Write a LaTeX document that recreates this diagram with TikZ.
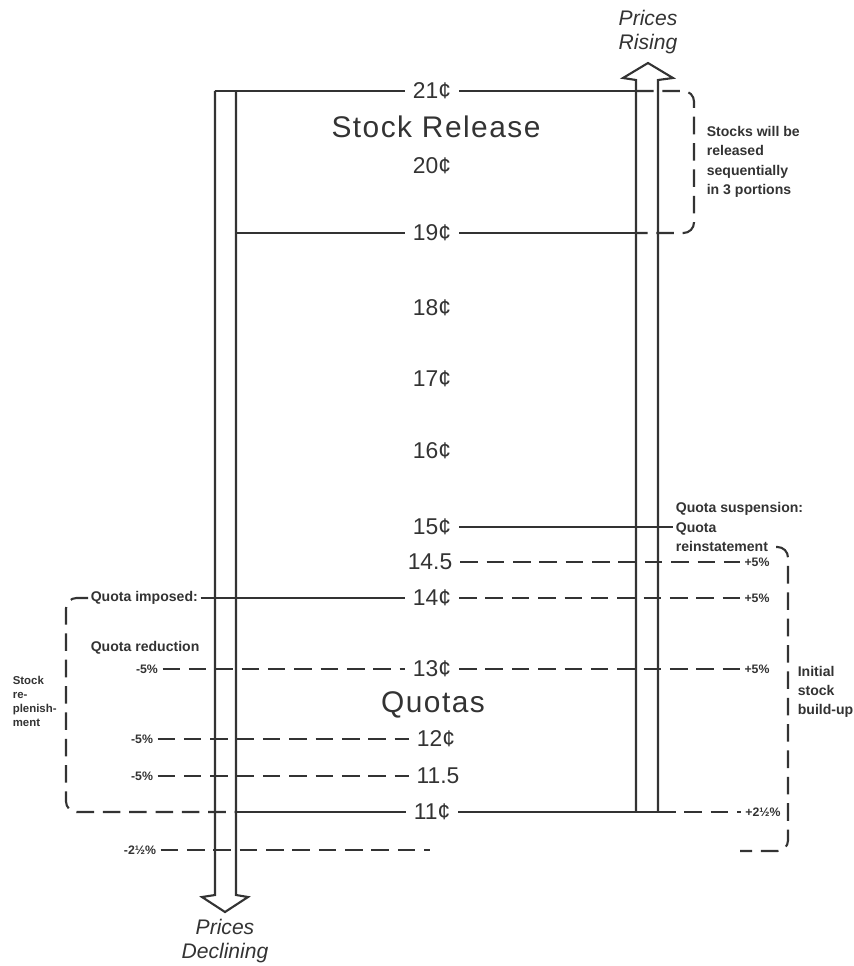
\documentclass[tikz,border=0pt]{standalone}
\usepackage{fontspec}
\setmainfont{Liberation Sans}
\newfontfamily\spacedfont[LetterSpace=5]{Liberation Sans}
\usepackage{xcolor}
\usepackage{tikz}
\definecolor{ink}{HTML}{333333}

\begin{document}
\begin{tikzpicture}[x=0.02cm, y=-0.02cm, line width=1.2pt, color=ink,
  price/.style={inner sep=4pt, font=\fontsize{13}{15}\selectfont},
  title/.style={font=\spacedfont\fontsize{17}{19}\selectfont},
  note/.style={inner sep=1pt, align=left, font=\fontsize{8}{11}\selectfont\bfseries},
  pct/.style={inner sep=2pt, font=\fontsize{7}{8}\selectfont\bfseries},
  trend/.style={align=center, font=\fontsize{12}{14}\selectfont\itshape},
  gapline/.style={dash pattern=on 10pt off 5pt}]
\useasboundingbox (0,0) rectangle (854,966);

\coordinate (dl) at (215,0);
\coordinate (dr) at (236,0);
\coordinate (rl) at (636,0);
\coordinate (rr) at (658,0);

\node[price] (p21) at (432,91) {21¢};
\node[price] (p20) at (432,166) {20¢};
\node[price] (p19) at (432,233) {19¢};
\node[price] (p18) at (432,308) {18¢};
\node[price] (p17) at (432,379) {17¢};
\node[price] (p16) at (432,451) {16¢};
\node[price] (p15) at (432,527) {15¢};
\node[price] (p14h) at (430,562) {14.5};
\node[price] (p14) at (432,598) {14¢};
\node[price] (p13) at (432,669) {13¢};
\node[price] (p12) at (436,739) {12¢};
\node[price] (p11h) at (438,776) {11.5};
\node[price] (p11) at (432,812) {11¢};

\node[title] (release) at (436,127) {Stock Release};
\node[title] (quotas) at (433,705) {Quotas};
\node[trend] (rising) at (648,32) {Prices\\Rising};
\node[trend] (declining) at (225,941) {Prices\\Declining};

\draw (dl |- p21) -- (215,895) -- (202,897) -- (225,912) -- (248,897) -- (236,895) -- (dr |- p21);
\draw (rl |- p11) -- (636,80) -- (623,78) -- (648,63) -- (673,78) -- (658,80) -- (rr |- p11);

\draw (dl |- p21) -- (p21.west);
\draw (p21.east) -- (rl |- p21);
\draw (dr |- p19) -- (p19.west);
\draw (p19.east) -- (rl |- p19);
\draw[gapline, rounded corners=6pt] (rl |- p21) -- (694,91) -- (694,233) -- (rl |- p19);
\node[note, anchor=west] (portions) at (704,162) {Stocks will be\\released\\sequentially\\in 3 portions};

\node[note, anchor=west] (suspend) at (673,527) {Quota suspension:\\Quota\\reinstatement};
\draw (p15.east) -- (suspend.west);

\node[pct] (up1) at (757,562) {+5\%};
\node[pct] (up2) at (757,598) {+5\%};
\node[pct] (up3) at (757,669) {+5\%};
\node[pct] (up4) at (763,812) {+2½\%};
\draw[gapline] (p14h.east) -- (up1.west);
\draw[gapline] (p14.east) -- (up2.west);
\draw[gapline] (p13.east) -- (up3.west);
\draw (p11.east) -- (rr |- p11);
\draw[gapline] (rr |- p11) -- (up4.west);

\node[note, anchor=west] (imposed) at (88,598) {Quota imposed:};
\node[note, anchor=west] (reduce) at (88,648) {Quota reduction};
\node[pct] (down1) at (147,669) {-5\%};
\node[pct] (down2) at (142,739) {-5\%};
\node[pct] (down3) at (142,776) {-5\%};
\node[pct] (down4) at (140,850) {-2½\%};
\coordinate (cut) at (430,850);
\draw (imposed.east) -- (p14.west);
\draw[gapline] (down1.east) -- (p13.west);
\draw[gapline] (down2.east) -- (p12.west);
\draw[gapline] (down3.east) -- (p11h.west);
\draw[gapline] (down4.east) -- (cut);
\draw (dr |- p11) -- (p11.west);
\draw[gapline, rounded corners=6pt] (imposed.west) -- (66,598) -- (66,812) -- (dr |- p11);
\node[note, anchor=west, font=\fontsize{6.5}{8}\selectfont\bfseries] (replenish) at (10,701) {Stock\\re-\\plenish-\\ment};

\coordinate (rbtop) at (776,547);
\coordinate (rbend) at (740,851);
\draw[gapline, rounded corners=6pt] (rbtop) -- (788,547) -- (788,851) -- (rbend);
\node[note, anchor=west] (buildup) at (795,692) {Initial\\stock\\build-up};
\end{tikzpicture}
\end{document}
